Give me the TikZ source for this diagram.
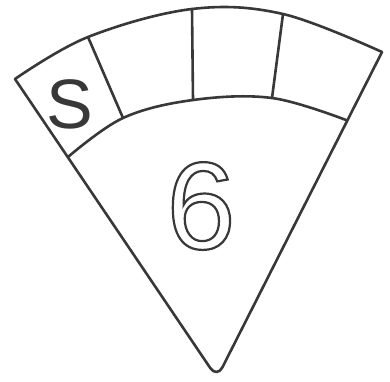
\documentclass[tikz,border=0pt]{standalone}
\usepackage{fontspec}
\setmainfont{Liberation Sans}
\definecolor{ink}{HTML}{383838}
\newcommand\outlinetext[1]{\special{pdf:literal direct 1 Tr 2.2 w 0.22 0.22 0.22 RG}#1\special{pdf:literal direct 0 Tr}}
\begin{document}
\begin{tikzpicture}[x=1pt,y=-1pt,
  pen/.style={draw=ink,line width=2.6pt,line cap=round,line join=round}]
\useasboundingbox (0,0) rectangle (390,381);
\fill[white] (0,0) rectangle (390,381);
% corners
\coordinate (OL) at (15,79);
\coordinate (OR) at (382,52);
\coordinate (IL) at (68,157);
\coordinate (IR) at (346,120);
\coordinate (AP) at (217,378);
% outer arc
\draw[pen] plot[smooth,tension=0.6] coordinates {(OL) (88,37) (192,9) (283,14) (OR)};
% inner arc
\draw[pen] plot[smooth,tension=0.6] coordinates {(IL) (123,118) (193,100) (272,98) (IR)};
% sides with rounded apex
\draw[pen,rounded corners=12pt] (OL) -- (AP) -- (OR);
% dividers
\draw[pen] (88,37) -- (123,118);
\draw[pen] (192,9) -- (193,100);
\draw[pen] (283,14) -- (272,98);
% labels
\node[text=ink,font=\fontsize{70}{70}\selectfont,inner sep=0pt] (s) at (70,104) {S};
\node[text=ink,font=\fontsize{124}{124}\selectfont,inner sep=0pt] (six) at (201,206)
  {\outlinetext{6}};
\end{tikzpicture}
\end{document}
